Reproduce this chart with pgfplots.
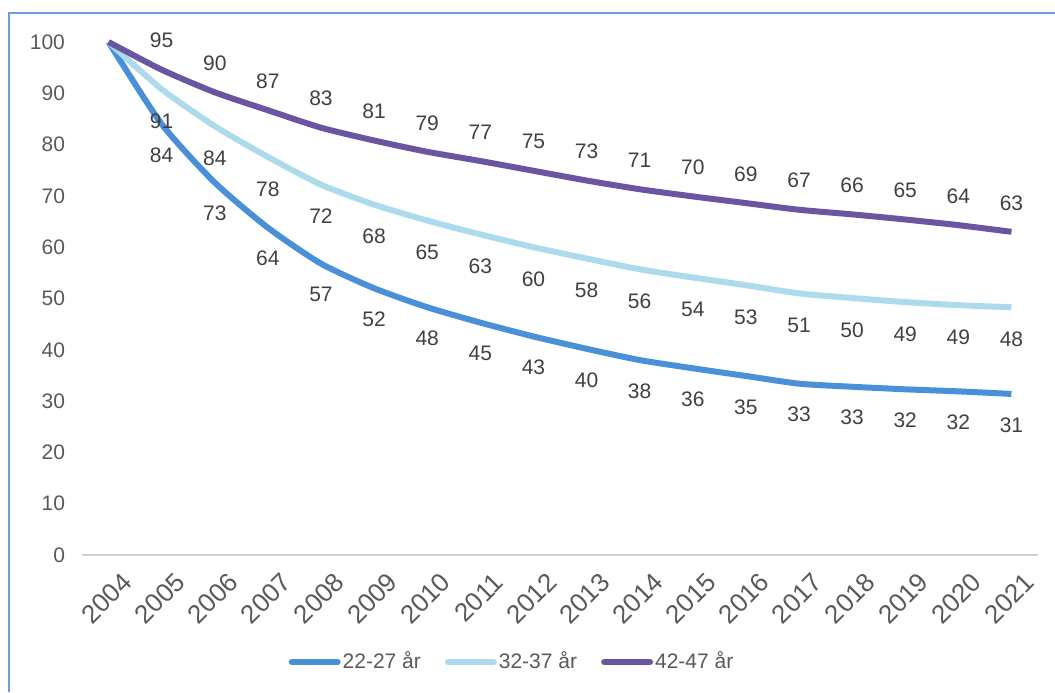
\documentclass[border=0pt]{standalone}
\usepackage{pgfplots}
\pgfplotsset{compat=1.18}
\usepackage{pgfplotstable}
\usepackage{fontspec}
\setmainfont{Liberation Sans}

\definecolor{ungblue}{HTML}{4A90D9}
\definecolor{midblue}{HTML}{ADDAEC}
\definecolor{oldpurple}{HTML}{6A56A0}
\definecolor{framecol}{HTML}{6A9FDB}
\definecolor{txt}{HTML}{404040}
\definecolor{ticktxt}{HTML}{595959}

% index relative to 2004 = 100 (labels show rounded values)
\pgfplotstableread{
year  a      b      c
2004  100    100    100
2005  84.0   90.8   94.6
2006  72.6   83.6   90.2
2007  63.8   77.6   86.7
2008  56.8   72.2   83.3
2009  52.0   68.3   80.8
2010  48.3   65.2   78.6
2011  45.3   62.5   76.8
2012  42.6   60.0   74.9
2013  40.2   57.8   73.0
2014  38.0   55.7   71.3
2015  36.4   54.1   69.9
2016  34.9   52.6   68.6
2017  33.4   51.0   67.3
2018  32.8   50.1   66.4
2019  32.3   49.3   65.4
2020  31.9   48.7   64.3
2021  31.4   48.3   63.0
}\datatable

\pgfplotsset{
  datalabel/.style={draw=none, forget plot, restrict x to domain=2005:2021,
    point meta=explicit,
    nodes near coords={\pgfmathprintnumber[fixed,precision=0]{\pgfplotspointmeta}},
    every node near coord/.append style={text=txt,
        font=\fontsize{10.5}{12}\selectfont, anchor=center, yshift=#1}},
}

\begin{document}
\begin{tikzpicture}
\useasboundingbox (0,0) rectangle (527.5pt,346pt);
% outer frame (cut off at right and bottom)
\draw[framecol, line width=0.75pt] (4.5pt,0) -- (4.5pt,339.5pt) -- (527.5pt,339.5pt);

\begin{axis}[
    at={(41pt,68.5pt)}, anchor=south west,
    scale only axis,
    width=478pt, height=256.5pt,
    xmin=2003.5, xmax=2021.5,
    ymin=0, ymax=100,
    xtick={2004,...,2021},
    ytick={0,10,...,100},
    axis x line*=bottom,
    axis y line*=left,
    x axis line style={draw=black!18, line width=0.75pt},
    y axis line style={draw=none},
    tick style={draw=none},
    font=\fontsize{10.5}{12}\selectfont,
    /pgf/number format/assume math mode=true,
    /pgf/number format/1000 sep={},
    ticklabel style={text=ticktxt},
    yticklabel style={xshift=-5pt},
    xticklabel style={rotate=45, anchor=north east, yshift=-6.5pt, xshift=2pt,
        font=\fontsize{13}{15}\selectfont},
    clip=false,
    legend style={
        at={(215pt,-53.5pt)}, anchor=center,
        draw=none, fill=none,
        legend columns=-1,
        text=ticktxt,
        nodes={inner xsep=1pt},
        /tikz/every even column/.append style={column sep=11pt},
        font=\fontsize{10.5}{12}\selectfont,
    },
    legend image code/.code={\draw[#1, line cap=round] (0pt,0pt) -- (23pt,0pt);},
]
\addplot[ungblue, line width=3pt, smooth, tension=0.4] table[x=year, y=a] {\datatable};
\addlegendentry{22-27 år}
\addplot[midblue, line width=3pt, smooth, tension=0.4] table[x=year, y=b] {\datatable};
\addlegendentry{32-37 år}
\addplot[oldpurple, line width=3pt, smooth, tension=0.4] table[x=year, y=c] {\datatable};
\addlegendentry{42-47 år}

% data labels
\addplot[datalabel=-15.5pt] table[x=year, y=a, meta=a] {\datatable};
\addplot[datalabel=-16pt] table[x=year, y=b, meta=b] {\datatable};
\addplot[datalabel=14.5pt] table[x=year, y=c, meta=c] {\datatable};
\end{axis}
\end{tikzpicture}
\end{document}
